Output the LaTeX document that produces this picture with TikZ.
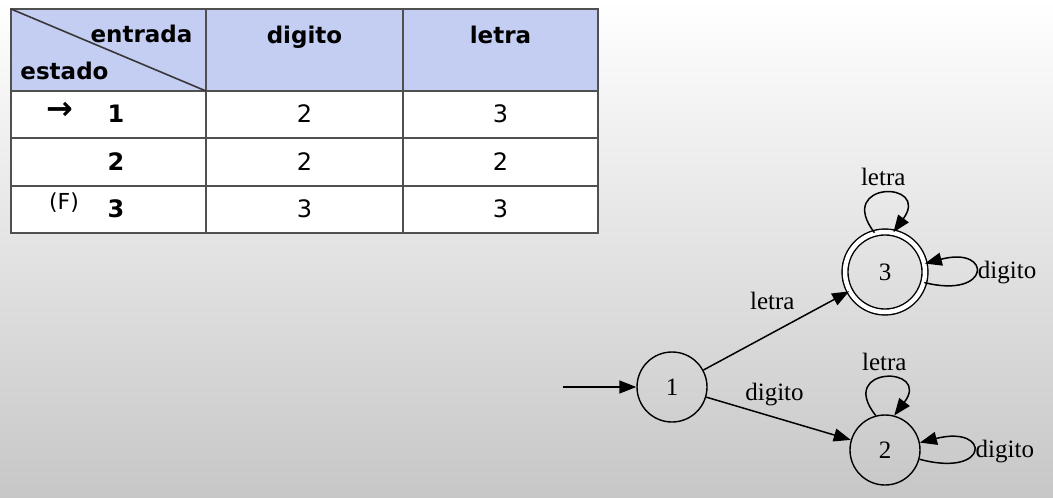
\documentclass[tikz,border=0pt]{standalone}
\usepackage{fontspec}
\setmainfont{Liberation Serif}
\newfontfamily\dvsans{DejaVu Sans}
\usetikzlibrary{arrows.meta}
\definecolor{hdr}{RGB}{196,205,242}
\definecolor{gridc}{RGB}{80,80,80}
\definecolor{bgmid}{RGB}{243,243,243}
\definecolor{bgbot}{RGB}{199,199,199}
\begin{document}
\begin{tikzpicture}[x=1pt,y=-1pt,
  tb/.style={font=\dvsans\bfseries\fontsize{23}{28}\selectfont, inner sep=0pt},
  ts/.style={font=\dvsans\bfseries\fontsize{24}{28}\selectfont, inner sep=0pt},
  tc/.style={font=\dvsans\fontsize{24}{28}\selectfont, inner sep=0pt},
  st/.style={circle, draw, line width=1.4pt, minimum size=70pt, inner sep=0pt, font=\fontsize{25}{30}\selectfont},
  lab/.style={font=\fontsize{25}{30}\selectfont, inner sep=2pt},
  tr/.style={-{Triangle[length=17pt,width=13pt]}, line width=1.5pt}]
\useasboundingbox (0,0) rectangle (1053,498);
\shade[top color=white, middle color=bgmid, bottom color=bgbot] (0,0) rectangle (1053,498);
% table
\fill[white] (11,91) rectangle (598,233);
\fill[hdr] (11,9) rectangle (598,91);
\draw[gridc, line width=2pt] (11,91) -- (598,91) (11,138) -- (598,138) (11,186) -- (598,186)
  (206,9) -- (206,233) (403,9) -- (403,233);
\draw[gridc, line width=2pt] (11,9) rectangle (598,233);
\draw[gridc!70!black, line width=1.6pt] (11,9) -- (206,91);
\node[tb, anchor=base] (hin) at (141.5,42) {entrada};
\node[tb, anchor=base] (hst) at (64.5,79) {estado};
\node[tb, anchor=base] (hdg) at (304.5,43) {digito};
\node[tb, anchor=base] (hlt) at (500.5,43) {letra};
\node[font=\dvsans\bfseries\fontsize{32}{36}\selectfont, inner sep=0pt] (arr) at (59.5,111) {→};
\node[font=\dvsans\fontsize{22}{26}\selectfont, inner sep=0pt] (fin) at (64,203) {(F)};
\node[ts] (s1) at (116,114) {1};
\node[ts] (s2) at (116,162) {2};
\node[ts] (s3) at (116,209) {3};
\node[tc] (c12) at (304.5,114) {2};
\node[tc] (c13) at (500.5,114) {3};
\node[tc] (c22) at (304.5,162) {2};
\node[tc] (c23) at (500.5,162) {2};
\node[tc] (c32) at (304.5,209) {3};
\node[tc] (c33) at (500.5,209) {3};
% automaton
\node[st] (n1) at (672,387) {1};
\node[st, double, double distance=4.5pt, minimum size=80pt] (n3) at (885,272) {3};
\node[st] (n2) at (885,450) {2};
\coordinate (s0) at (563,387);
\draw[tr] (s0) -- (n1);
\draw[tr] (n1) -- node[lab, midway, above=18pt, xshift=-4pt] {letra} (n3);
\draw[tr] (n1) -- node[lab, midway, above=9.5pt, xshift=-4pt] {digito} (n2);
\draw[tr] (n3.105) .. controls +(-40,-52) and +(38,-52) .. node[lab, above=5pt] {letra} (n3.78);
\draw[tr] (n3.-15) .. controls +(67,17) and +(68,-18) .. node[lab, right] {digito} (n3.12);
\draw[tr] (n2.105) .. controls +(-40,-50) and +(38,-50) .. node[lab, above=5pt] {letra} (n2.75);
\draw[tr] (n2.-15) .. controls +(71,19) and +(71,-18) .. node[lab, right] {digito} (n2.12);
\end{tikzpicture}
\end{document}
